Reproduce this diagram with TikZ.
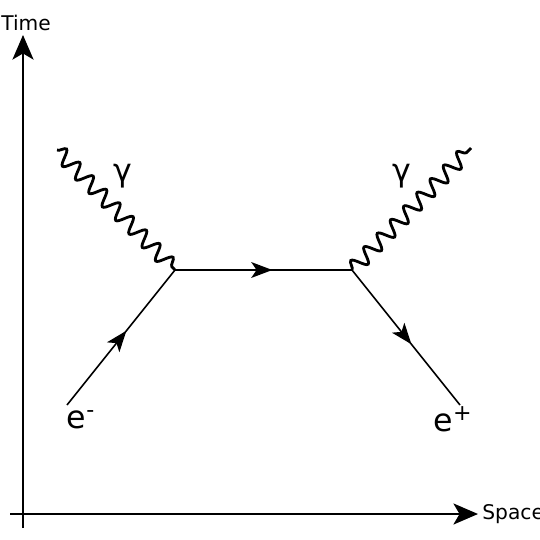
\documentclass[tikz,border=0pt]{standalone}
\usepackage{fontspec}
\setmainfont{DejaVu Sans}
\usetikzlibrary{arrows.meta,decorations.pathmorphing,decorations.markings}
\begin{document}
\begin{tikzpicture}[
 x=0.02cm,y=-0.02cm,
 axis/.style={line width=1.2pt,-{Stealth[length=14pt,width=12pt,inset=3.5pt]}},
 fermion/.style={line width=0.9pt,postaction={decorate},
  decoration={markings,mark=at position 0.55 with {\arrow{Stealth[length=12pt,width=9pt,inset=3pt]}}}},
 photon/.style={line width=1.6pt,decorate,decoration={snake,amplitude=1.5mm,segment length=3.8mm}},
 particle/.style={font=\fontsize{18}{20}\selectfont,inner sep=0pt},
 axislabel/.style={font=\fontsize{11.5}{13}\selectfont,inner sep=0pt}
]
\useasboundingbox (0,0) rectangle (540,540);
% axes
\coordinate (tlow) at (23,528);
\coordinate (ttop) at (23,35);
\coordinate (sleft) at (10,514);
\coordinate (sright) at (478,514);
\draw[axis] (tlow)--(ttop);
\draw[axis] (sleft)--(sright);
\node[axislabel] (time) at (26,23) {Time};
\node[axislabel,anchor=west] (space) at (482,514) {Space};
% vertices
\coordinate (va) at (175,270);
\coordinate (vb) at (352,270);
\coordinate (ein) at (67,405);
\coordinate (eout) at (460,405);
\coordinate (gin) at (57,150);
\coordinate (gout) at (471,148);
% lines
\draw[fermion] (ein)--(va);
\draw[fermion] (va)--(vb);
\draw[fermion] (vb)--(eout);
\draw[photon] (gin)--(va);
\draw[photon] (vb)--(gout);
% labels
\node[particle] (ga) at (123,176) {γ};
\node[particle] (gb) at (402,176) {γ};
\node[particle] (em) at (81,420) {e\textsuperscript{-}};
\node[particle] (ep) at (453,419) {e\textsuperscript{+}};
\end{tikzpicture}
\end{document}
